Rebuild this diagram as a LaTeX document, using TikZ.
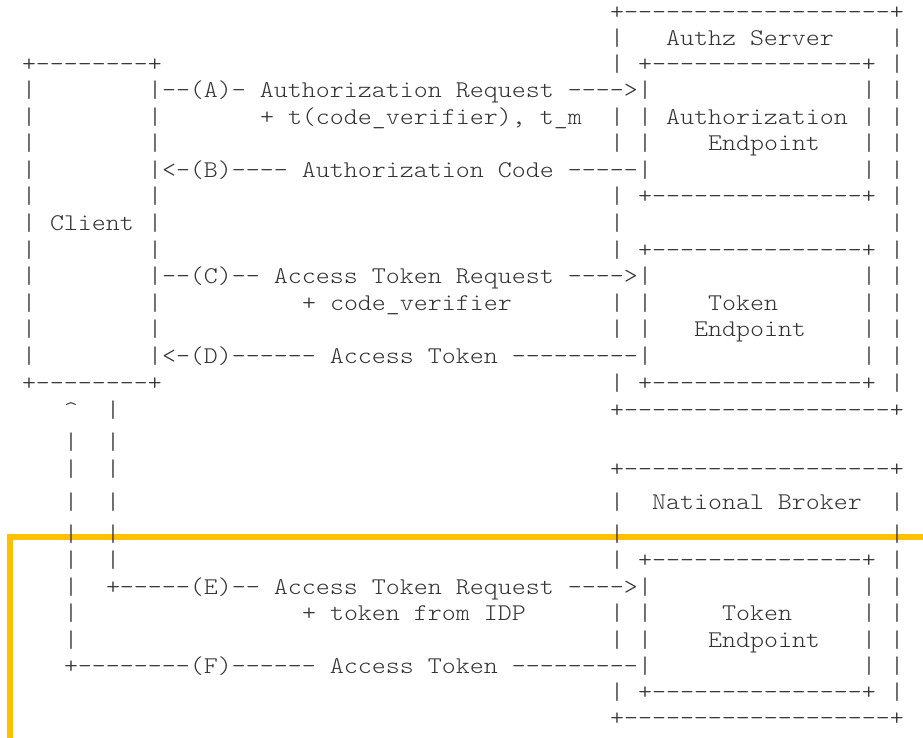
\documentclass[tikz,border=0pt]{standalone}
\usepackage{fontspec}
\setmonofont{Latin Modern Mono Light}[FakeStretch=1.111]
\definecolor{ink}{HTML}{333333}
\definecolor{gold}{HTML}{FFC000}
\newcommand{\asciifont}{\ttfamily\fontsize{24pt}{26pt}\selectfont}
\newcommand{\rowy}{{13,39,65,91,118,144,171,197,223,250,276,303,329,356,383,410,442,469,502,534,560,587,613,640,666,692,718}}
\newcommand{\asciiat}[4]{%
  \pgfmathsetmacro{\basey}{\rowy[#3]+7}%
  \node[ascii] (#1) at ({8+14*#2}, \basey) {#4};}

\begin{document}
\begin{tikzpicture}[
    x=1pt, y=-1pt,
    ascii/.style={anchor=base west, inner sep=0pt, outer sep=0pt, font=\asciifont, text=ink},
    zone/.style={draw=gold, line width=5.3pt, line join=miter}
]
  \useasboundingbox (0,0) rectangle (923,738);
  \draw[zone] (10,738) -- (10,537) -- (923,537);

  % client
  \foreach \r in {2,14} {\asciiat{cl-edge\r}{1}{\r}{+--------+}}
  \foreach \r in {3,...,13} {
    \asciiat{cl-left\r}{1}{\r}{|}
    \asciiat{cl-right\r}{10}{\r}{|}
  }
  \asciiat{client}{3}{8}{Client}

  % authz server
  \foreach \r in {0,15} {\asciiat{as-edge\r}{43}{\r}{+-------------------+}}
  \foreach \r in {1,...,14} {\asciiat{as-right\r}{63}{\r}{|}}
  \foreach \r in {1,2,4,5,7,8,9,11,12,14} {\asciiat{as-left\r}{43}{\r}{|}}
  \foreach \r in {2,7,9,14} {\asciiat{ep-edge\r}{45}{\r}{+---------------+}}
  \foreach \r in {3,4,5,6,10,11,12,13} {
    \asciiat{ep-left\r}{45}{\r}{|}
    \asciiat{ep-right\r}{61}{\r}{|}
  }
  \asciiat{as-title}{47}{1}{Authz Server}
  \asciiat{authz-ep1}{47}{4}{Authorization}
  \asciiat{authz-ep2}{50}{5}{Endpoint}
  \asciiat{token-ep1}{50}{11}{Token}
  \asciiat{token-ep2}{49}{12}{Endpoint}

  % national broker
  \foreach \r in {17,26} {\asciiat{nb-edge\r}{43}{\r}{+-------------------+}}
  \foreach \r in {18,...,25} {\asciiat{nb-right\r}{63}{\r}{|}}
  \foreach \r in {18,19,20,22,23,25} {\asciiat{nb-left\r}{43}{\r}{|}}
  \foreach \r in {20,25} {\asciiat{nt-edge\r}{45}{\r}{+---------------+}}
  \foreach \r in {21,...,24} {
    \asciiat{nt-left\r}{45}{\r}{|}
    \asciiat{nt-right\r}{61}{\r}{|}
  }
  \asciiat{nb-title}{46}{18}{National Broker}
  \asciiat{nb-ep1}{51}{22}{Token}
  \asciiat{nb-ep2}{50}{23}{Endpoint}

  % flows
  \asciiat{flow-a}{11}{3}{--(A)- Authorization Request ---->}
  \asciiat{note-a}{18}{4}{+ t(code\_verifier), t\_m}
  \asciiat{flow-b}{11}{6}{<-(B)---- Authorization Code -----}
  \asciiat{flow-c}{11}{10}{--(C)-- Access Token Request ---->}
  \asciiat{note-c}{21}{11}{+ code\_verifier}
  \asciiat{flow-d}{11}{13}{<-(D)------ Access Token ---------}
  \asciiat{up}{4}{15}{\textasciicircum}
  \foreach \r in {16,...,23} {\asciiat{link-f\r}{4}{\r}{|}}
  \foreach \r in {15,...,20} {\asciiat{link-e\r}{7}{\r}{|}}
  \asciiat{flow-e}{7}{21}{+-----(E)-- Access Token Request ---->}
  \asciiat{note-e}{21}{22}{+ token from IDP}
  \asciiat{flow-f}{4}{24}{+--------(F)------ Access Token ---------}
\end{tikzpicture}
\end{document}
